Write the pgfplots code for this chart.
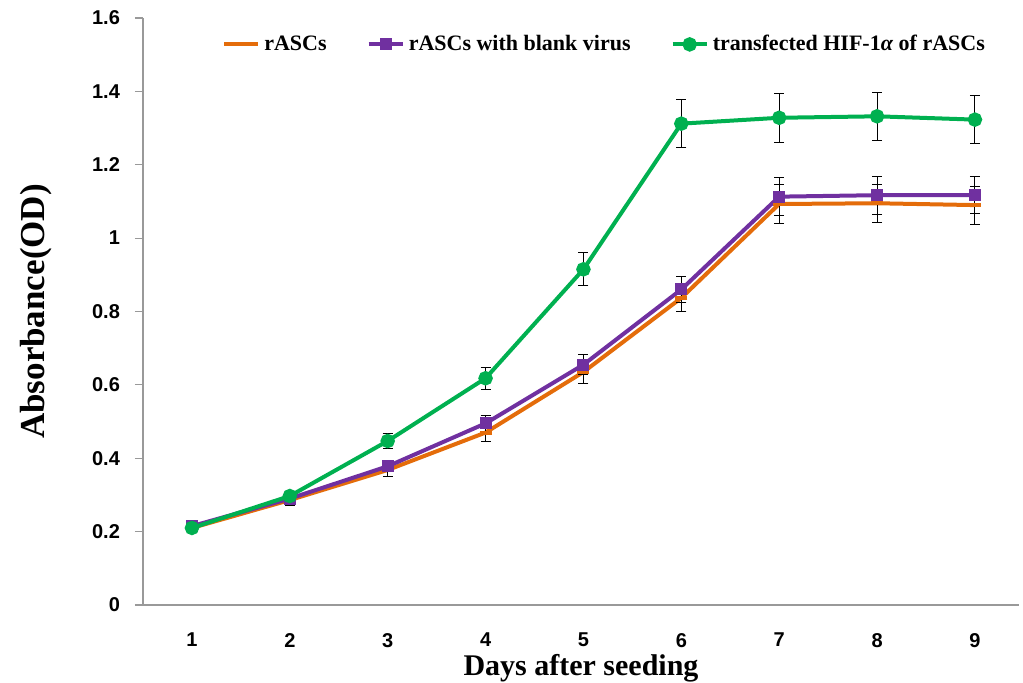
\documentclass[border=0pt]{standalone}
\usepackage{pgfplots}
\pgfplotsset{compat=1.18}
\usepackage{fontspec}
\setmainfont{Liberation Serif}
\newfontfamily\tickfont{Liberation Sans}
\definecolor{cOr}{HTML}{E46C0A}
\definecolor{cPu}{HTML}{7030A0}
\definecolor{cGr}{HTML}{00B050}
\begin{document}
\begin{tikzpicture}
\useasboundingbox (-71.5pt,-39pt) rectangle (440pt,302.5pt);
\begin{axis}[
  at={(0pt,0pt)}, anchor=origin,
  scale only axis, width=438pt, height=293.5pt,
  xmin=0.5, xmax=9.45, ymin=0, ymax=1.6,
  axis x line*=bottom, axis y line*=left,
  axis line style={gray!80, line width=0.6pt},
  xtick={1,...,9}, major x tick style={draw=none},
  extra x ticks={0.5,1.5,2.5,3.5,4.5,5.5,6.5,7.5,8.5},
  extra x tick labels={},
  extra x tick style={major tick length=4pt, tick style={gray!80, line width=0.6pt}},
  ytick={0,0.2,...,1.6},
  yticklabels={0,0.2,0.4,0.6,0.8,1,1.2,1.4,1.6},
  tick align=outside,
  major tick length=4pt,
  ytick style={gray!80, line width=0.6pt},
  /pgf/number format/assume math mode=true,
  ticklabel style={font=\tickfont\bfseries\fontsize{10}{12}\selectfont},
  xticklabel style={yshift=-6.5pt},
  yticklabel style={xshift=-4pt},
  xlabel={Days after seeding},
  xlabel style={font=\bfseries\fontsize{15}{16}\selectfont, yshift=11.5pt},
  ylabel={Absorbance(OD)},
  ylabel style={font=\bfseries\fontsize{17.5}{18}\selectfont, yshift=13pt},
  legend style={draw=none, fill=none, at={(axis description cs:0.528,0.955)}, anchor=center,
    font=\bfseries\fontsize{11}{12}\selectfont, legend columns=3,
    /tikz/every even column/.append style={column sep=18pt}},
  legend cell align=left,
  every axis plot/.append style={line width=2pt},
  error bars/y dir=both, error bars/y explicit,
  error bars/error bar style={black, line width=0.5pt},
  error bars/error mark options={black, rotate=90, mark size=2.5pt, line width=0.5pt},
]
\addplot[cOr, mark=-, mark size=3pt, mark options={line width=2pt}] coordinates {
(1,0.210) +- (0,0.008)
(2,0.286) +- (0,0.015)
(3,0.368) +- (0,0.018)
(4,0.470) +- (0,0.025)
(5,0.635) +- (0,0.032)
(6,0.837) +- (0,0.038)
(7,1.093) +- (0,0.052)
(8,1.095) +- (0,0.052)
(9,1.090) +- (0,0.052)
};
\addlegendentry{rASCs}
\addplot[cPu, mark=square*, mark size=2pt] coordinates {
(1,0.215) +- (0,0.008)
(2,0.290) +- (0,0.012)
(3,0.378) +- (0,0.015)
(4,0.495) +- (0,0.022)
(5,0.655) +- (0,0.028)
(6,0.860) +- (0,0.035)
(7,1.113) +- (0,0.052)
(8,1.117) +- (0,0.052)
(9,1.117) +- (0,0.050)
};
\addlegendentry{rASCs with blank virus}
\addplot[cGr, mark=*, mark size=2.6pt] coordinates {
(1,0.210) +- (0,0.008)
(2,0.297) +- (0,0.010)
(3,0.447) +- (0,0.020)
(4,0.618) +- (0,0.030)
(5,0.915) +- (0,0.045)
(6,1.312) +- (0,0.065)
(7,1.328) +- (0,0.067)
(8,1.332) +- (0,0.065)
(9,1.323) +- (0,0.065)
};
\addlegendentry{transfected HIF-1\textit{α} of rASCs}
\end{axis}
\end{tikzpicture}
\end{document}
